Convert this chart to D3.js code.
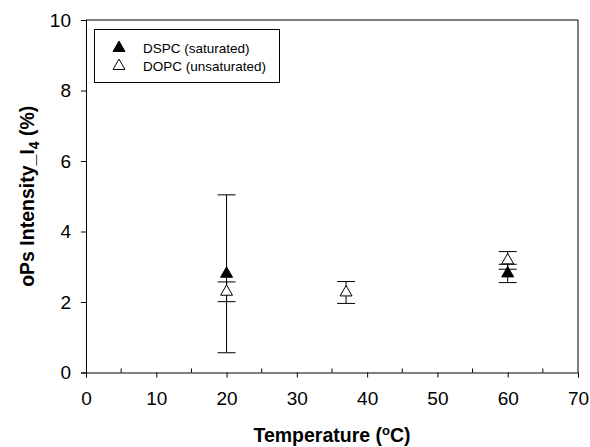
<!DOCTYPE html>
<html>
<head>
<meta charset="utf-8">
<script src="https://cdn.jsdelivr.net/npm/d3@7"></script>
<style>
	body { margin: 0; background: #fff; }
	svg { display: block; font-family: "Liberation Sans", Arial, sans-serif; }
</style>
</head>
<body>
<svg id="chart" width="590" height="447"></svg>
<script>
(function (d3) {
	"use strict";

	/***** Data *****/
	// DSPC (saturated)
	var dspcTemp = [20, 60];
	var dspcMean = [2.8, 2.81];
	var dspcErr = [2.24, 0.26];

	// DOPC (unsaturated)
	var dopcTemp = [20, 37, 60];
	var dopcMean = [2.29, 2.27, 3.18];
	var dopcErr = [0.28, 0.31, 0.25];

	var xTicks = [0, 10, 20, 30, 40, 50, 60, 70];
	var xMinorTicks = [5, 15, 25, 35, 45, 55, 65];
	var yTicks = [0, 2, 4, 6, 8, 10];

	/***** Layout *****/
	const left = 86, right = 578, top = 20, bottom = 372.5;
	const capHalf = 9;
	const markerSize = 62;

	var svg = d3.select("#chart");

	var x = d3.scaleLinear().domain([0, 70]).range([left, right]);
	var y = d3.scaleLinear().domain([0, 10]).range([bottom, top]);

	// build series rows from the arrays
	function rows(temp, mean, err) {
		return temp.map(function (t, i) {
			return { t: t, m: mean[i], e: err[i] };
		});
	}
	var series = [
		{ name: "DSPC (saturated)", fill: "#000", data: rows(dspcTemp, dspcMean, dspcErr) },
		{ name: "DOPC (unsaturated)", fill: "#fff", data: rows(dopcTemp, dopcMean, dopcErr) }
	];

	/***** Frame *****/
	svg.append("line")
		.attr("x1", left).attr("x2", right).attr("y1", top).attr("y2", top)
		.attr("stroke", "#000");
	svg.append("line")
		.attr("x1", right).attr("x2", right).attr("y1", top).attr("y2", bottom)
		.attr("stroke", "#000");

	/***** Axes *****/
	var xAxis = d3.axisBottom(x).tickValues(xTicks).tickSize(5).tickPadding(14)
		.tickFormat(d3.format("d"));
	var gx = svg.append("g")
		.attr("transform", "translate(0," + bottom + ")")
		.call(xAxis);

	// minor ticks point inward
	gx.selectAll(".minor")
		.data(xMinorTicks)
		.enter().append("line")
		.attr("class", "minor")
		.attr("x1", function (d) { return x(d); })
		.attr("x2", function (d) { return x(d); })
		.attr("y1", 0).attr("y2", -4)
		.attr("stroke", "#000");

	var yAxis = d3.axisLeft(y).tickValues(yTicks).tickSize(5).tickPadding(10)
		.tickFormat(d3.format("d"));
	var gy = svg.append("g")
		.attr("transform", "translate(" + left + ",0)")
		.call(yAxis);

	[gx, gy].forEach(function (g) {
		g.select(".domain").attr("stroke", "#000");
		g.selectAll(".tick line").attr("stroke", "#000");
		g.selectAll(".tick text")
			.attr("fill", "#000")
			.style("font-size", "19px")
			.style("font-family", "'Liberation Sans', Arial, sans-serif");
	});

	/***** Axis titles *****/
	var xTitle = svg.append("text")
		.attr("x", (left + right) / 2)
		.attr("y", 442)
		.attr("text-anchor", "middle")
		.style("font-size", "19.5px")
		.style("font-weight", "bold");
	xTitle.append("tspan").text("Temperature (");
	xTitle.append("tspan").text("o").attr("dy", -7).style("font-size", "13px");
	xTitle.append("tspan").text("C)").attr("dy", 7);

	var yTitle = svg.append("text")
		.attr("transform", "translate(34," + ((top + bottom) / 2) + ") rotate(-90)")
		.attr("text-anchor", "middle")
		.style("font-size", "19.5px")
		.style("font-weight", "bold");
	yTitle.append("tspan").text("oPs Intensity_I");
	yTitle.append("tspan").text("4").attr("dy", 5).style("font-size", "14px");
	yTitle.append("tspan").text(" (%)").attr("dy", -5);

	/***** Error bars *****/
	var tri = d3.symbol().type(d3.symbolTriangle).size(markerSize);

	series.forEach(function (s) {
		var g = svg.append("g").attr("class", "errbars");
		s.data.forEach(function (d) {
			var cx = x(d.t);
			var yHi = y(d.m + d.e), yLo = y(d.m - d.e);
			g.append("line")
				.attr("x1", cx).attr("x2", cx).attr("y1", yHi).attr("y2", yLo)
				.attr("stroke", "#000");
			g.append("line")
				.attr("x1", cx - capHalf).attr("x2", cx + capHalf).attr("y1", yHi).attr("y2", yHi)
				.attr("stroke", "#000");
			g.append("line")
				.attr("x1", cx - capHalf).attr("x2", cx + capHalf).attr("y1", yLo).attr("y2", yLo)
				.attr("stroke", "#000");
		});
	});

	/***** Markers *****/
	series.forEach(function (s) {
		svg.append("g").selectAll("path")
			.data(s.data)
			.enter().append("path")
			.attr("d", tri)
			.attr("transform", function (d) { return "translate(" + x(d.t) + "," + y(d.m) + ")"; })
			.attr("fill", s.fill)
			.attr("stroke", "#000")
			.attr("stroke-width", 1);
	});

	/***** Legend *****/
	var legend = svg.append("g");
	legend.append("rect")
		.attr("x", 94.5).attr("y", 29.5)
		.attr("width", 185).attr("height", 53)
		.attr("fill", "#fff")
		.attr("stroke", "#000");

	series.forEach(function (s, i) {
		var ly = 48 + i * 18;
		legend.append("path")
			.attr("d", tri)
			.attr("transform", "translate(119," + ly + ")")
			.attr("fill", s.fill)
			.attr("stroke", "#000");
		legend.append("text")
			.attr("x", 143)
			.attr("y", ly)
			.attr("dy", "0.35em")
			.style("font-size", "13.5px")
			.text(s.name);
	});

})(d3);
</script>
</body>
</html>
